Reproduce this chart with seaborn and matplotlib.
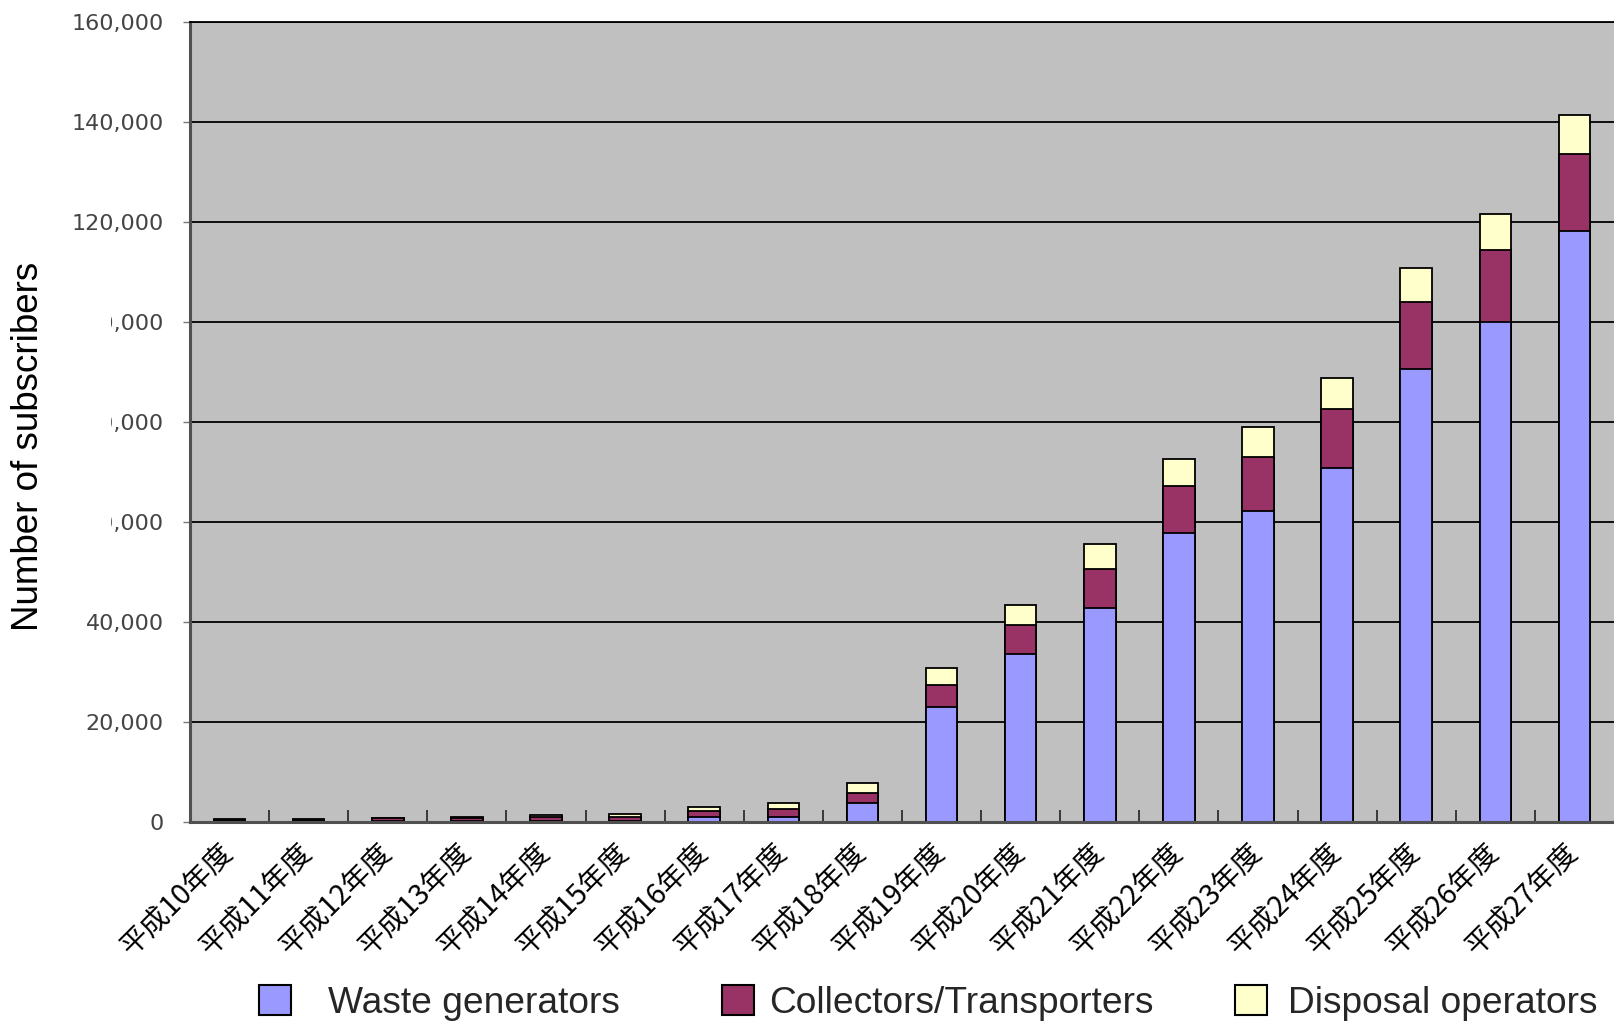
import matplotlib
matplotlib.use("Agg")
import matplotlib.pyplot as plt
import numpy as np
import pandas as pd
import seaborn as sns
from matplotlib.patches import Patch, Rectangle

# ---- data ----
years = ["平成10年度", "平成11年度", "平成12年度", "平成13年度", "平成14年度", "平成15年度",
         "平成16年度", "平成17年度", "平成18年度", "平成19年度", "平成20年度", "平成21年度",
         "平成22年度", "平成23年度", "平成24年度", "平成25年度", "平成26年度", "平成27年度"]
waste_generators = [100, 100, 100, 100, 100, 100, 940, 1060, 3860, 22900, 33600, 42700,
                    57800, 62100, 70700, 90600, 99900, 118100]
collectors = [300, 300, 600, 700, 840, 840, 1320, 1480, 2000, 4400, 5800, 7900,
              9300, 10800, 11800, 13300, 14400, 15400]
disposal = [100, 100, 100, 200, 400, 660, 680, 1200, 2000, 3400, 3900, 5000,
            5500, 6000, 6300, 6800, 7300, 7800]
series_names = ["Waste generators", "Collectors/Transporters", "Disposal operators"]
yticks = [0, 20000, 40000, 60000, 80000, 100000, 120000, 140000, 160000]

C_BLUE, C_MAROON, C_CREAM = "#9999FF", "#993366", "#FFFFCC"

df = pd.DataFrame({"year": years, "w": waste_generators, "c": collectors, "d": disposal})
df["wc"] = df["w"] + df["c"]
df["total"] = df["wc"] + df["d"]

sns.set_theme(style="white")
plt.rcParams["font.family"] = ["Liberation Sans", "DejaVu Sans"]

W, H = 1614, 1024
fig = plt.figure(figsize=(W / 100, H / 100), dpi=100)
ax = fig.add_axes([190 / W, 1 - 822 / H, (W - 190) / W, (822 - 21.6) / H])
ax.set_facecolor("#C0C0C0")

common = dict(width=0.4, edgecolor="black", linewidth=1.3, saturation=1, ax=ax)
sns.barplot(data=df, x="year", y="total", color=C_CREAM, **common)
sns.barplot(data=df, x="year", y="wc", color=C_MAROON, **common)
sns.barplot(data=df, x="year", y="w", color=C_BLUE, **common)

ax.set_xlim(-0.5, len(years) - 0.5)
ax.set_ylim(0, 160000)
ax.set_axisbelow(True)
ax.yaxis.grid(True, color="black", linewidth=1.3)
ax.xaxis.grid(False)
ax.set_xlabel("")
ax.set_ylabel("")

ax.set_yticks(yticks)
ax.set_yticklabels([f"{v:,}" for v in yticks], family=["DejaVu Sans"], fontsize=16, color="#444444")
ax.tick_params(axis="y", which="major", direction="out", length=5, width=1, color="#777777", pad=14, left=True)

ax.set_xticks(range(len(years)))
ax.set_xticklabels(years, rotation=45, ha="right", va="center", rotation_mode="anchor",
                   fontsize=20.5, family=["Noto Sans CJK JP", "DejaVu Sans"], color="black")
ax.tick_params(axis="x", which="major", length=0, pad=19, bottom=True)
ax.set_xticks(np.arange(0.5, len(years) - 1, 1.0), minor=True)
ax.tick_params(axis="x", which="minor", direction="in", length=9, width=1.2, color="#222222", bottom=True)

for side in ["left", "bottom"]:
    ax.spines[side].set_color("#505050")
    ax.spines[side].set_linewidth(2.2)
ax.spines["top"].set_color("black")
ax.spines["top"].set_linewidth(1.3)
ax.spines["right"].set_visible(False)

# y axis title
fig.text(29 / W, 1 - 446 / H, "Number of subscribers", rotation=90, ha="center", va="center",
         fontsize=26.5, color="black", family=["Liberation Sans"])

# white box hiding part of the middle tick labels, as in the reference
fig.patches.append(Rectangle((57 / W, 1 - 540 / H), 54 / W, 240 / H, transform=fig.transFigure,
                             facecolor="white", edgecolor="none", zorder=5))

# legend entries placed individually
colors = [C_BLUE, C_MAROON, C_CREAM]
xpos = [259, 722, 1235]
pads = [1.0, 0.39, 0.56]
for name, col, xp, pd_ in zip(series_names, colors, xpos, pads):
    h = Patch(facecolor=col, edgecolor="black", linewidth=1.5)
    fig.legend(handles=[h], labels=[name], loc="center left", bbox_to_anchor=(xp / W, 1 - 1003 / H),
               frameon=False, fontsize=26.7, handlelength=0.87, handleheight=0.87,
               handletextpad=pd_, borderpad=0, borderaxespad=0)

fig.savefig("out.png", dpi=100, facecolor="white")
